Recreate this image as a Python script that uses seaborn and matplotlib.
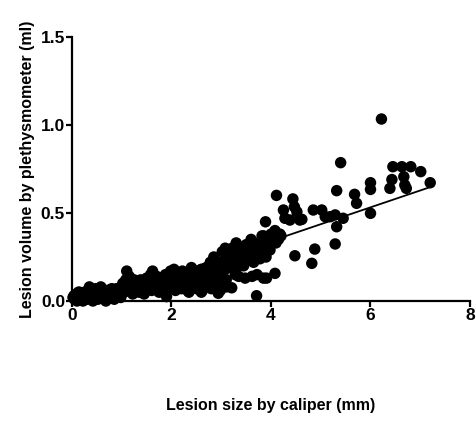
import matplotlib
matplotlib.use("Agg")
import matplotlib.pyplot as plt
import seaborn as sns
import numpy as np
import pandas as pd

# Dense low-range cluster (x = caliper mm, y = plethysmometer ml)
x_low = [0.05, 0.08, 0.10, 0.12, 0.15, 0.18, 0.20, 0.22, 0.25, 0.28, 0.30, 0.33, 0.35, 0.38,
         0.40, 0.42, 0.45, 0.48, 0.50, 0.52, 0.55, 0.58, 0.60, 0.62, 0.65, 0.68, 0.70, 0.72,
         0.75, 0.78, 0.80, 0.82, 0.85, 0.88, 0.90, 0.92, 0.95, 0.98, 1.00]
y_low = [0.01, 0.02, 0.00, 0.03, 0.01, 0.04, 0.02, 0.00, 0.05, 0.03, 0.01, 0.06, 0.08, 0.04,
         0.02, 0.00, 0.05, 0.07, 0.03, 0.01, 0.06, 0.08, 0.04, 0.02, 0.06, 0.00, 0.04, 0.06,
         0.02, 0.05, 0.07, 0.03, 0.01, 0.05, 0.07, 0.03, 0.05, 0.02, 0.08]

# More overlapping points near the origin
x_origin = [0.02, 0.04, 0.06, 0.09, 0.11, 0.13, 0.16, 0.19, 0.21, 0.24, 0.27, 0.29, 0.32, 0.34,
            0.37, 0.39, 0.41, 0.44, 0.47, 0.49, 0.51, 0.54, 0.57, 0.59, 0.61, 0.64, 0.67, 0.69,
            0.71, 0.74, 0.77, 0.79, 0.81, 0.84, 0.87, 0.89, 0.91, 0.94, 0.97, 0.99, 0.10, 0.20,
            0.30, 0.40, 0.50, 0.60, 0.70, 0.80, 0.90, 0.25]
y_origin = [0.02, 0.03, 0.01, 0.04, 0.02, 0.05, 0.03, 0.02, 0.04, 0.03, 0.05, 0.02, 0.04, 0.06,
            0.03, 0.05, 0.04, 0.02, 0.05, 0.04, 0.06, 0.03, 0.05, 0.06, 0.03, 0.04, 0.06, 0.05,
            0.03, 0.06, 0.04, 0.05, 0.06, 0.04, 0.06, 0.05, 0.04, 0.06, 0.07, 0.05, 0.03, 0.04,
            0.05, 0.04, 0.05, 0.05, 0.05, 0.04, 0.05, 0.02]

x_mid1 = [1.02, 1.05, 1.08, 1.10, 1.12, 1.15, 1.18, 1.20, 1.22, 1.25, 1.28, 1.30, 1.35, 1.38,
          1.40, 1.45, 1.48, 1.50, 1.55, 1.58, 1.60, 1.62, 1.65, 1.70, 1.72, 1.75, 1.80, 1.82,
          1.85, 1.88, 1.90, 1.92, 1.95, 1.98, 2.00]
y_mid1 = [0.10, 0.05, 0.12, 0.17, 0.08, 0.14, 0.06, 0.10, 0.04, 0.12, 0.07, 0.10, 0.05, 0.12,
          0.08, 0.11, 0.06, 0.13, 0.09, 0.15, 0.06, 0.17, 0.11, 0.14, 0.07, 0.10, 0.13, 0.06,
          0.09, 0.15, 0.11, 0.07, 0.13, 0.17, 0.09]

x_mid2 = [2.02, 2.05, 2.08, 2.10, 2.12, 2.15, 2.20, 2.22, 2.25, 2.30, 2.32, 2.35, 2.40, 2.42,
          2.45, 2.50, 2.52, 2.55, 2.60, 2.62, 2.65, 2.70, 2.72, 2.75, 2.78, 2.80, 2.82, 2.85,
          2.88, 2.90, 2.92, 2.95, 2.98, 1.90, 2.94]
y_mid2 = [0.12, 0.18, 0.06, 0.15, 0.09, 0.13, 0.07, 0.17, 0.11, 0.14, 0.06, 0.09, 0.19, 0.12,
          0.16, 0.07, 0.10, 0.14, 0.18, 0.06, 0.12, 0.19, 0.09, 0.15, 0.22, 0.07, 0.12, 0.25,
          0.17, 0.10, 0.20, 0.14, 0.06, 0.025, 0.044]

x_mid3 = [3.00, 3.02, 3.05, 3.08, 3.10, 3.12, 3.15, 3.20, 3.22, 3.25, 3.28, 3.30, 3.32, 3.35,
          3.38, 3.40, 3.45, 3.48, 3.50, 3.52, 3.58, 3.60, 3.62, 3.65, 3.68, 3.72, 3.75, 3.78,
          3.80, 3.82, 3.85, 3.88, 3.90, 3.95, 3.98, 4.00, 4.05, 4.10, 4.15, 4.20, 3.21, 3.71]
y_mid3 = [0.22, 0.28, 0.17, 0.30, 0.12, 0.24, 0.19, 0.27, 0.30, 0.21, 0.15, 0.33, 0.26, 0.14,
          0.23, 0.30, 0.27, 0.13, 0.32, 0.24, 0.29, 0.35, 0.14, 0.22, 0.30, 0.15, 0.33, 0.24,
          0.28, 0.37, 0.13, 0.30, 0.25, 0.33, 0.29, 0.38, 0.36, 0.33, 0.35, 0.37, 0.075, 0.03]

# Extra fill of the dense band
x_fill = [0.15, 0.30, 0.45, 0.60, 0.75, 0.90, 1.05, 1.20, 1.35, 1.50, 1.65, 1.80, 1.95, 2.10,
          2.25, 2.40, 2.55, 2.70, 2.85, 3.00, 3.15, 3.30, 3.45, 3.55, 3.65, 3.78, 3.92, 2.20,
          2.45, 2.65, 2.90, 1.45, 1.75, 2.35, 2.60, 3.10]
y_fill = [0.05, 0.04, 0.03, 0.06, 0.04, 0.05, 0.07, 0.08, 0.09, 0.10, 0.08, 0.10, 0.11, 0.11,
          0.09, 0.13, 0.12, 0.13, 0.15, 0.16, 0.21, 0.19, 0.20, 0.26, 0.27, 0.31, 0.36, 0.14,
          0.10, 0.16, 0.18, 0.04, 0.05, 0.05, 0.05, 0.08]

# Sparse upper range
x_high = [3.89, 4.11, 4.44, 4.47, 4.52, 4.25, 4.28, 4.38, 4.62, 4.08, 4.18, 4.01, 3.85, 4.08,
          3.91, 4.48, 4.85, 5.02, 5.09, 5.19, 4.88, 4.82, 5.29, 5.32, 5.45, 5.29, 5.32, 5.40,
          5.68, 5.72, 6.00, 6.00, 6.00, 6.22, 6.45, 6.63, 6.81, 7.01, 7.20, 6.67, 6.69, 6.43,
          6.39, 6.72, 4.58]
y_high = [0.45, 0.60, 0.58, 0.535, 0.507, 0.517, 0.47, 0.46, 0.464, 0.40, 0.38, 0.34, 0.37, 0.157,
          0.13, 0.257, 0.517, 0.517, 0.479, 0.479, 0.295, 0.214, 0.489, 0.422, 0.47, 0.324, 0.627, 0.786,
          0.606, 0.555, 0.672, 0.634, 0.498, 1.034, 0.763, 0.763, 0.763, 0.735, 0.672, 0.706, 0.659, 0.69,
          0.64, 0.64, 0.46]

caliper = x_low + x_origin + x_mid1 + x_mid2 + x_mid3 + x_fill + x_high
volume = y_low + y_origin + y_mid1 + y_mid2 + y_mid3 + y_fill + y_high
df = pd.DataFrame({"caliper": caliper, "volume": volume})

x_ticks = [0, 2, 4, 6, 8]
y_ticks = [0.0, 0.5, 1.0, 1.5]
y_tick_labels = ["0.0", "0.5", "1.0", "1.5"]

sns.set_theme(style="white")
plt.rcParams["font.family"] = ["Liberation Sans", "DejaVu Sans"]

fig = plt.figure(figsize=(4.77, 4.23), dpi=100)
ax = fig.add_axes([72 / 477, (423 - 301) / 423, 398 / 477, 264 / 423])

sns.regplot(data=df, x="caliper", y="volume", ax=ax, ci=None,
            scatter_kws=dict(s=68, color="black", edgecolor="none", alpha=1, clip_on=False, zorder=3),
            line_kws=dict(color="black", linewidth=1.3, zorder=4))

ax.set_xlim(0, 8)
ax.set_ylim(0, 1.5)
ax.set_xticks(x_ticks)
ax.set_yticks(y_ticks)
ax.set_yticklabels(y_tick_labels)

for s in ["top", "right"]:
    ax.spines[s].set_visible(False)
for s in ["left", "bottom"]:
    ax.spines[s].set_linewidth(1.6)
    ax.spines[s].set_color("black")

ax.tick_params(axis="both", direction="out", length=4, width=1.6, color="black",
               labelsize=12.5, labelcolor="black", pad=1, bottom=True, left=True)
for lab in ax.get_xticklabels() + ax.get_yticklabels():
    lab.set_fontweight("bold")

ax.set_xlabel("Lesion size by caliper (mm)", fontsize=11.5, fontweight="bold", labelpad=54, color="black")
ax.set_ylabel("Lesion volume by plethysmometer (ml)", fontsize=11.5, fontweight="bold", labelpad=4, color="black")

fig.savefig("out.png", dpi=100)
